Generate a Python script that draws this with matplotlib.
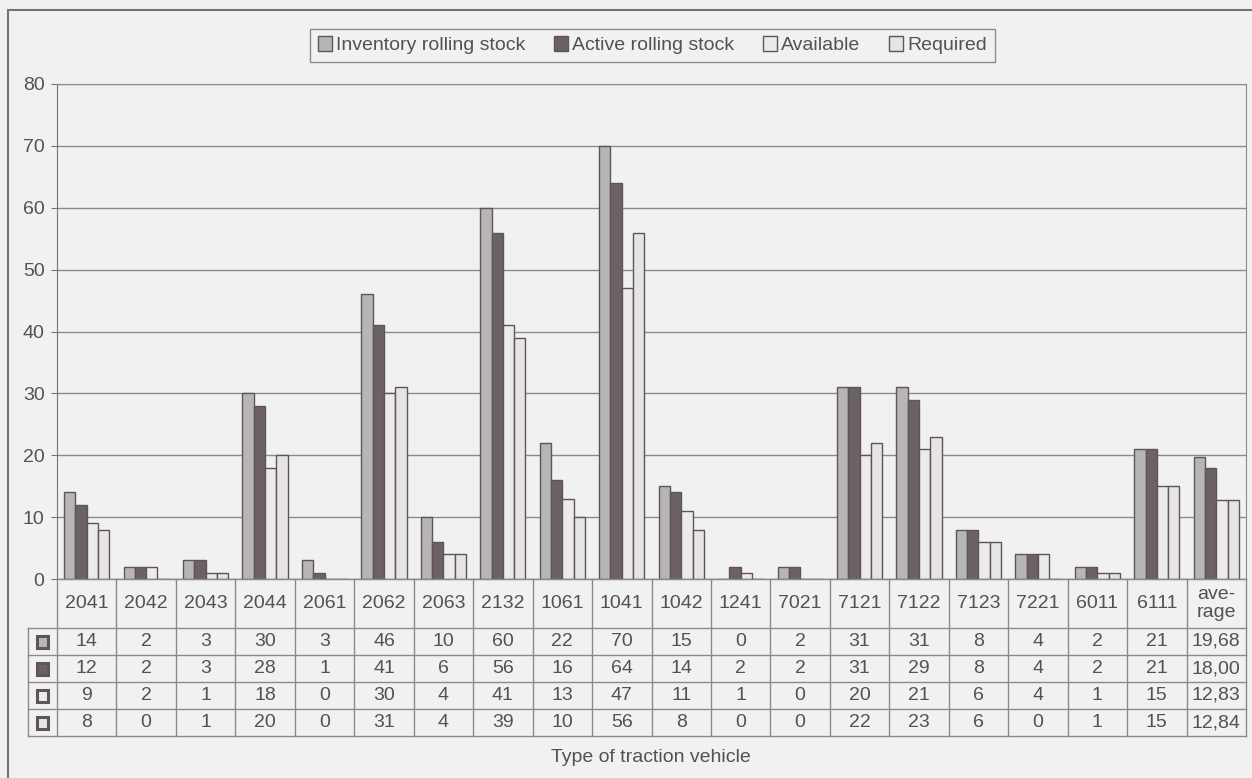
import matplotlib.pyplot as plt
import numpy as np
from matplotlib.patches import Rectangle
from matplotlib.lines import Line2D

plt.rcParams['font.family'] = ['Liberation Sans', 'DejaVu Sans']

categories = ['2041', '2042', '2043', '2044', '2061', '2062', '2063', '2132', '1061', '1041',
              '1042', '1241', '7021', '7121', '7122', '7123', '7221', '6011', '6111', 'ave-\nrage']
inventory = [14, 2, 3, 30, 3, 46, 10, 60, 22, 70, 15, 0, 2, 31, 31, 8, 4, 2, 21, 19.68]
active = [12, 2, 3, 28, 1, 41, 6, 56, 16, 64, 14, 2, 2, 31, 29, 8, 4, 2, 21, 18.00]
available = [9, 2, 1, 18, 0, 30, 4, 41, 13, 47, 11, 1, 0, 20, 21, 6, 4, 1, 15, 12.83]
required = [8, 0, 1, 20, 0, 31, 4, 39, 10, 56, 8, 0, 0, 22, 23, 6, 0, 1, 15, 12.84]

labels = ['Inventory rolling stock', 'Active rolling stock', 'Available', 'Required']
series = [inventory, active, available, required]
colors = ['#b8b5b7', '#6c6266', '#eceaeb', '#e6e4e5']
edge = '#5e5559'
txt = '#555052'
bg = '#f2f1f1'

W, H = 1252, 778
fig = plt.figure(figsize=(W / 100, H / 100), dpi=100, facecolor=bg)


def px(x0, y0, x1, y1):
    # pixel box (top-left origin) -> figure fraction rect
    return [x0 / W, 1 - y1 / H, (x1 - x0) / W, (y1 - y0) / H]


# outer frame
fig.patches.append(Rectangle((8 / W, -0.1), 2, 1 - 10 / H + 0.1, transform=fig.transFigure,
                             fill=False, ec='#777274', lw=1.5))

ax = fig.add_axes(px(57, 84, 1246, 579))
ax.set_facecolor(bg)
x = np.arange(len(categories))
width = 0.19
for i, vals in enumerate(series):
    ax.bar(x + (i - 1.5) * width, vals, width, color=colors[i], edgecolor=edge, linewidth=1.0,
           label=labels[i], zorder=3)

ax.set_xlim(-0.5, len(categories) - 0.5)
ax.set_ylim(0, 80)
ax.set_yticks(range(0, 81, 10))
ax.set_xticks([])
ax.yaxis.grid(True, color='#8d8889', lw=1.0, zorder=0)
ax.tick_params(axis='y', labelsize=14, colors=txt, length=4, color='#777274', pad=5)
for s in ['top', 'right']:
    ax.spines[s].set_color('#8d8889')
ax.spines['left'].set_color('#777274')
ax.spines['left'].set_linestyle((0, (1, 1)))
ax.spines['bottom'].set_color('#777274')

leg = fig.legend(loc='upper center', bbox_to_anchor=(0.521, 1 - 19 / H), ncol=4, fontsize=14,
                 frameon=True, fancybox=False, edgecolor='#777274', facecolor=bg,
                 handlelength=0.75, handleheight=0.75, handletextpad=0.2, columnspacing=1.45,
                 borderpad=0.4, labelcolor=txt)
leg.get_frame().set_linewidth(1.0)

# data table under the axis
tax = fig.add_axes(px(57, 579, 1246, 736))
tax.set_xlim(-0.5, len(categories) - 0.5)
tax.set_ylim(157, 0)
tax.axis('off')
row_edges = [0, 49, 76, 103, 130, 157]
sw = 29 / 59.45  # swatch column width in data units
lc = '#8d8889'
xl = -0.5
xr = len(categories) - 0.5
for k, yy in enumerate(row_edges):
    x0 = xl if k == 0 else xl - sw
    tax.add_line(Line2D([x0, xr], [yy, yy], color=lc, lw=1, clip_on=False))
for c in range(len(categories) + 1):
    tax.add_line(Line2D([xl + c, xl + c], [0, 157], color=lc, lw=1, clip_on=False))
tax.add_line(Line2D([xl - sw, xl - sw], [49, 157], color=lc, lw=1, clip_on=False))

for c, name in enumerate(categories):
    tax.text(c, 24.5, name, ha='center', va='center', fontsize=14, color=txt, linespacing=1.05)

for r, vals in enumerate(series):
    yc = (row_edges[r + 1] + row_edges[r + 2]) / 2
    tax.add_patch(Rectangle((xl - sw / 2 - 0.1, yc - 6), 0.2, 12, facecolor=colors[r],
                            edgecolor=edge, lw=2.2, clip_on=False))
    for c, v in enumerate(vals):
        s = f'{v:.2f}'.replace('.', ',') if c == len(vals) - 1 else str(v)
        tax.text(c, yc, s, ha='center', va='center', fontsize=14, color=txt)

fig.text(651 / W, 1 - 758 / H, 'Type of traction vehicle', ha='center', va='center',
         fontsize=14, color=txt)

fig.savefig('out.png', dpi=100, facecolor=bg)
